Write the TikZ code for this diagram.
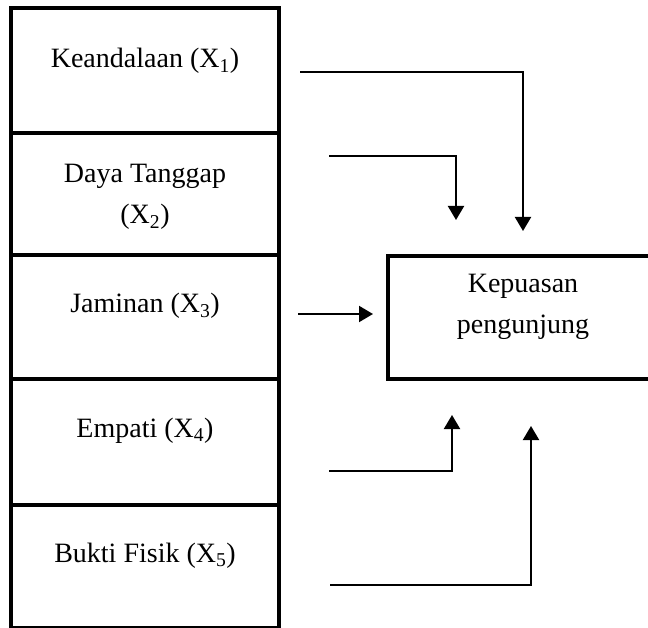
\documentclass[tikz,border=0pt]{standalone}
\usepackage{fontspec}
\setmainfont{Liberation Serif}
\usetikzlibrary{arrows.meta}

\tikzstyle{cell} = [draw=black, line width=4.5pt, minimum width=268pt, inner sep=0pt]
\tikzstyle{goal} = [draw=black, line width=4.5pt, minimum width=312pt, minimum height=123pt, inner sep=0pt]
\tikzstyle{txt} = [font={\fontsize{28}{41}\selectfont}, align=center, anchor=base, inner sep=0pt]
\tikzstyle{arr} = [line width=2pt, -{Triangle[width=16pt,length=14pt]}]

\begin{document}
\begin{tikzpicture}[x=1pt,y=-1pt]
\useasboundingbox (0,0) rectangle (648,628);

% variabel bebas
\node [cell, minimum height=125pt] (x1) at (145,70.5) {};
\node [cell, minimum height=122pt] (x2) at (145,194) {};
\node [cell, minimum height=124pt] (x3) at (145,317) {};
\node [cell, minimum height=126pt] (x4) at (145,442) {};
\node [cell, minimum height=123pt] (x5) at (145,566.5) {};
\node [txt] (t1) at (145,68) {Keandalaan (X\textsubscript{1})};
\node [txt] (t2) at (145,224) {Daya Tanggap\\(X\textsubscript{2})};
\node [txt] (t3) at (145,313) {Jaminan (X\textsubscript{3})};
\node [txt] (t4) at (145,437) {Empati (X\textsubscript{4})};
\node [txt] (t5) at (145,562) {Bukti Fisik (X\textsubscript{5})};

% variabel terikat
\node [goal] (y) at (544,317.5) {};
\node [txt] (ty) at (523,334) {Kepuasan\\pengunjung};

\coordinate (s1) at (300,72);
\coordinate (e1) at (523,231);
\coordinate (s2) at (329,156);
\coordinate (e2) at (456,220);
\coordinate (s3) at (298,314);
\coordinate (e3) at (373,314);
\coordinate (s4) at (329,471);
\coordinate (e4) at (452,415);
\coordinate (s5) at (330,585);
\coordinate (e5) at (531,426);
\draw [arr] (s1) -| (e1);
\draw [arr] (s2) -| (e2);
\draw [arr] (s3) -- (e3);
\draw [arr] (s4) -| (e4);
\draw [arr] (s5) -| (e5);
\end{tikzpicture}
\end{document}
